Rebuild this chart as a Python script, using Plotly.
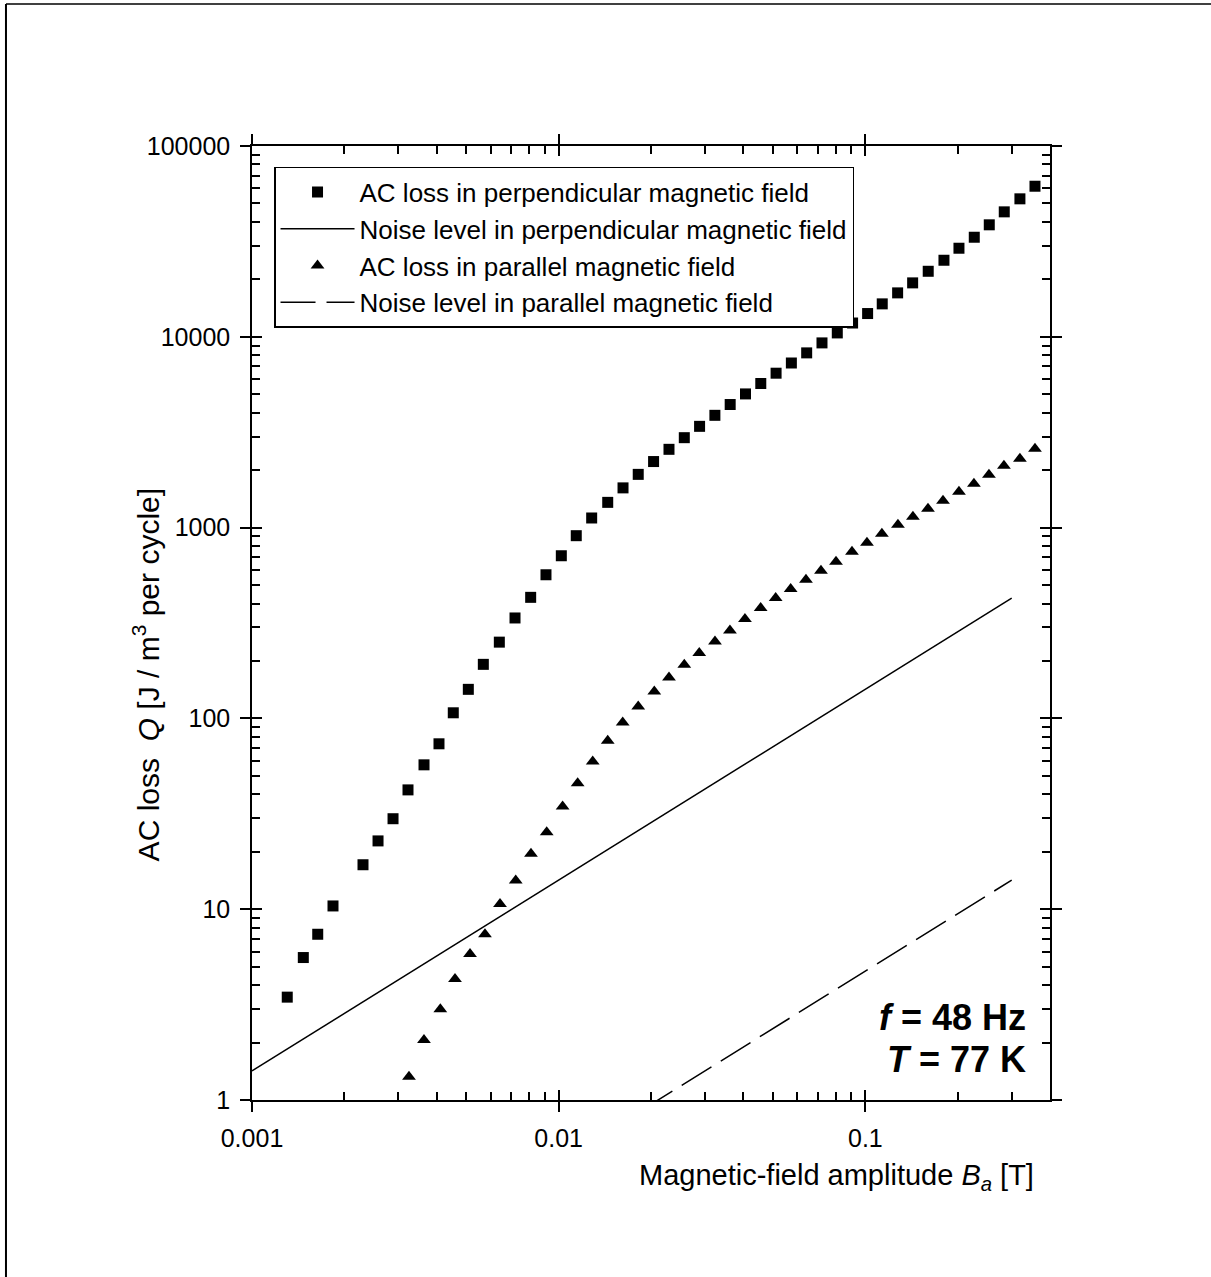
import plotly.graph_objects as go

# ---- data ----
perp_B = [0.001303, 0.00147, 0.001638, 0.001837, 0.002301, 0.002576, 0.002883, 0.003226, 0.003638, 0.004071,
          0.004532, 0.005074, 0.005679, 0.006404, 0.007204, 0.008103, 0.00909, 0.0102, 0.01141, 0.01281,
          0.01445, 0.01621, 0.01817, 0.02039, 0.02289, 0.02568, 0.0288, 0.03231, 0.03624, 0.04065,
          0.0456, 0.05115, 0.05737, 0.06436, 0.0722, 0.08099, 0.09085, 0.1017, 0.1135, 0.1274,
          0.1426, 0.1603, 0.1804, 0.2019, 0.2265, 0.2535, 0.2837, 0.3191, 0.3573]
perp_Q = [3.46, 5.58, 7.39, 10.4, 17.1, 22.8, 29.8, 42.2, 57.1, 73.6,
          107, 142, 192, 251, 336, 431, 566, 712, 907, 1123,
          1356, 1615, 1901, 2219, 2572, 2960, 3394, 3877, 4416, 5019,
          5690, 6445, 7289, 8236, 9290, 10480, 11810, 13240, 14880, 16990,
          19170, 22050, 25190, 29120, 33250, 38630, 45170, 52860, 61540]

par_B = [0.00325, 0.003637, 0.004112, 0.004591, 0.005139, 0.00575, 0.006437, 0.007243, 0.008122, 0.009139,
         0.0103, 0.01153, 0.01291, 0.01445, 0.01617, 0.01817, 0.0205, 0.02289, 0.02568, 0.02873,
         0.03233, 0.03618, 0.04049, 0.04556, 0.05099, 0.05707, 0.06402, 0.07165, 0.08021, 0.09043,
         0.1012, 0.1132, 0.1277, 0.1429, 0.16, 0.1791, 0.2019, 0.2259, 0.2529, 0.283,
         0.3191, 0.3573]
par_Q = [1.325, 2.064, 2.989, 4.31, 5.831, 7.393, 10.66, 14.16, 19.5, 25.33,
         34.51, 45.78, 59.43, 76.29, 95.17, 115.5, 138.4, 163.9, 191.0, 220.0,
         253.1, 289.1, 331.7, 378.8, 427.3, 476.4, 533.1, 594.2, 662.6, 747.4,
         833.4, 929.0, 1036, 1141, 1257, 1384, 1543, 1699, 1894, 2111,
         2298, 2593]

noise_perp_B = [0.001, 0.3]
noise_perp_Q = [1.42, 427]
noise_par_B = [0.001, 0.3]
noise_par_Q = [0.0475, 14.2]

x_major = [0.001, 0.01, 0.1]
x_major_text = ["0.001", "0.01", "0.1"]
x_minor = [k * 10 ** e for e in (-3, -2) for k in range(2, 10)] + [0.2, 0.3]
y_major = [1, 10, 100, 1000, 10000, 100000]
y_major_text = ["1", "10", "100", "1000", "10000", "100000"]
y_minor = [k * 10 ** e for e in range(0, 5) for k in range(2, 10)]

FONT = "Liberation Sans, Arial, sans-serif"

fig = go.Figure()
fig.add_trace(go.Scatter(x=perp_B, y=perp_Q, mode="markers", name="AC loss in perpendicular magnetic field",
                         marker=dict(symbol="square", size=11, color="black"), cliponaxis=False))
fig.add_trace(go.Scatter(x=noise_perp_B, y=noise_perp_Q, mode="lines", name="Noise level in perpendicular magnetic field",
                         line=dict(color="black", width=1.5)))
fig.add_trace(go.Scatter(x=par_B, y=par_Q, mode="markers", name="AC loss in parallel magnetic field",
                         marker=dict(symbol="triangle-up", size=12, color="black"), cliponaxis=False))
fig.add_trace(go.Scatter(x=noise_par_B, y=noise_par_Q, mode="lines", name="Noise level in parallel magnetic field",
                         line=dict(color="black", width=1.5, dash="35px,11px")))

xr = [-3, -0.398]
yr = [0, 5]

common_line = dict(showline=True, linecolor="black", linewidth=1.5, showgrid=False, zeroline=False,
                   tickcolor="black", tickwidth=1.5)

fig.update_layout(
    width=1211, height=1277,
    margin=dict(l=252, r=161, t=146, b=177),
    paper_bgcolor="white", plot_bgcolor="white",
    font=dict(family=FONT, size=25, color="black"),
    showlegend=True,
    legend=dict(x=0.0276, y=0.978, xanchor="left", yanchor="top",
                bordercolor="black", borderwidth=1.5, bgcolor="white",
                font=dict(family=FONT, size=26, color="black"),
                itemwidth=74, tracegroupgap=0),
    xaxis=dict(type="log", range=xr, tickmode="array", tickvals=x_major, ticktext=x_major_text,
               ticks="outside", ticklen=10, mirror="allticks", ticklabelstandoff=5,
               tickfont=dict(family=FONT, size=25), **common_line),
    yaxis=dict(type="log", range=yr, tickmode="array", tickvals=y_major, ticktext=y_major_text,
               ticks="outside", ticklen=10, mirror="allticks", ticklabelstandoff=5,
               tickfont=dict(family=FONT, size=25), **common_line),
    xaxis2=dict(type="log", range=xr, overlaying="x", anchor="y", side="bottom",
                tickmode="array", tickvals=x_major, ticks="inside", ticklen=10,
                showticklabels=False, mirror="allticks",
                minor=dict(tickmode="array", tickvals=x_minor, ticks="inside", ticklen=8,
                           tickcolor="black", tickwidth=1.5, showgrid=False),
                **common_line),
    yaxis2=dict(type="log", range=yr, overlaying="y", anchor="x", side="left",
                tickmode="array", tickvals=y_major, ticks="inside", ticklen=10,
                showticklabels=False, mirror="allticks",
                minor=dict(tickmode="array", tickvals=y_minor, ticks="inside", ticklen=8,
                           tickcolor="black", tickwidth=1.5, showgrid=False),
                **common_line),
)

# invisible trace to activate the overlay (tick) axes
fig.add_trace(go.Scatter(x=[0.01], y=[10], xaxis="x2", yaxis="y2", mode="markers",
                         marker=dict(opacity=0), showlegend=False, hoverinfo="skip"))

# axis titles as annotations
fig.add_annotation(text="Magnetic-field amplitude <i>B</i><sub><i>a</i></sub> [T]",
                   xref="paper", yref="paper", x=0.7325, y=-0.081, xanchor="center", yanchor="middle",
                   showarrow=False, font=dict(family=FONT, size=29, color="black"))
fig.add_annotation(text="AC loss  <i>Q</i> [J / m<sup>3</sup> per cycle]",
                   xref="paper", yref="paper", x=-0.133, y=0.446, xanchor="center", yanchor="middle",
                   textangle=-90, showarrow=False, font=dict(family=FONT, size=30, color="black"))

fig.add_annotation(text="<b><i>f</i> = 48 Hz</b>", xref="paper", yref="paper", x=0.9724, y=0.086,
                   xanchor="right", yanchor="middle", showarrow=False,
                   font=dict(family=FONT, size=36, color="black"))
fig.add_annotation(text="<b><i>T</i> = 77 K</b>", xref="paper", yref="paper", x=0.9724, y=0.042,
                   xanchor="right", yanchor="middle", showarrow=False,
                   font=dict(family=FONT, size=36, color="black"))

# outer frame (top and left edges)
fig.add_shape(type="line", xref="paper", yref="paper", x0=-0.3083, x1=1.21, y0=1.1488, y1=1.1488,
              line=dict(color="black", width=1.5))
fig.add_shape(type="line", xref="paper", yref="paper", x0=-0.3083, x1=-0.3083, y0=1.1488, y1=-0.19,
              line=dict(color="black", width=2))

fig.write_html("out.html", config={"displayModeBar": False},
               post_script="document.body.style.margin='0px';")
